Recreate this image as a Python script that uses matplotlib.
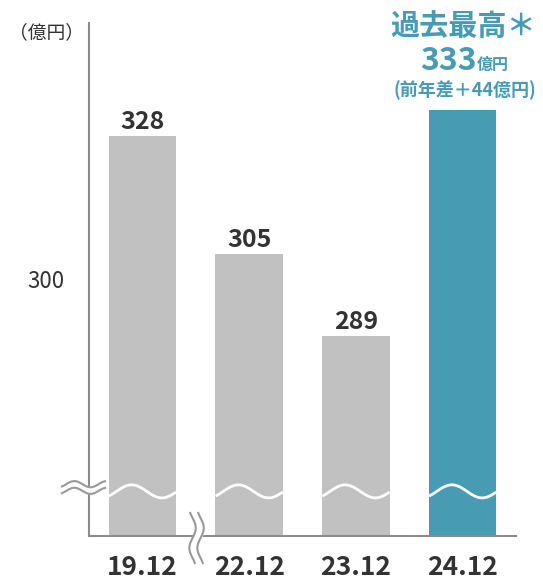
import numpy as np
import matplotlib.pyplot as plt

plt.rcParams['font.family'] = ['Noto Sans CJK JP', 'DejaVu Sans']

# data
periods = ['19.12', '22.12', '23.12', '24.12']
sales = [328, 305, 289, 333]
bar_colors = ['#c1c1c1', '#c1c1c1', '#c1c1c1', '#479bb3']
unit_label = '（億円）'
record_title = '過去最高＊'
record_value = '333'
record_unit = '億円'
record_diff = '(前年差＋44億円)'

dark = '#333333'
teal = '#479bb3'
axis_gray = '#8c8c8c'

fig = plt.figure(figsize=(5.43, 5.80), dpi=100)
ax = fig.add_axes([89 / 543, 44 / 580, 427 / 543, 513 / 580])

x = np.arange(len(periods))
bar_w = 0.63
ax.bar(x, sales, width=bar_w, bottom=0, color=bar_colors, zorder=2)
ax.set_xlim(-0.5, 3.5)
ax.set_ylim(250, 350)

for side in ['top', 'right']:
    ax.spines[side].set_visible(False)
for side in ['left', 'bottom']:
    ax.spines[side].set_color(axis_gray)
    ax.spines[side].set_linewidth(1.5)

ax.set_xticks([])
ax.set_yticks([300])
ax.set_yticklabels(['300'], fontsize=16, color=dark)
ax.tick_params(axis='y', length=0, pad=18)

# value labels over the grey bars
for xi, v in zip(x[:3], sales[:3]):
    ax.annotate(str(v), (xi, v), xytext=(0, 5), textcoords='offset points',
                ha='center', va='baseline', fontsize=18, fontweight='bold', color=dark)

# period labels under the axis
for xi, p in zip(x, periods):
    ax.text(xi, -0.076, p, transform=ax.get_xaxis_transform(), ha='center',
            va='baseline', fontsize=19, fontweight='bold', color=dark)

# unit label
fig.text(9 / 543, 1 - 38 / 580, unit_label, fontsize=13.5, color=dark, ha='left', va='baseline')

# record callout over the last bar
ax.text(3, 349.4, record_title, ha='center', va='center', fontsize=21,
        fontweight='bold', color=teal, clip_on=False)
ax.text(3.13, 340.8, record_value, ha='right', va='baseline', fontsize=23,
        fontweight='bold', color=teal, clip_on=False)
ax.text(3.13, 340.8, record_unit, ha='left', va='baseline', fontsize=11.5,
        fontweight='bold', color=teal, clip_on=False)
ax.text(3.02, 336.9, record_diff, ha='center', va='center', fontsize=13,
        fontweight='bold', color=teal, clip_on=False)

# wavy break line across every bar
t = np.linspace(0, 1, 100)
for xi in x:
    xs = xi - bar_w / 2 + t * bar_w
    ys = 258.7 + 1.27 * np.cos(2 * np.pi * (t - 0.34) / 0.9)
    ax.plot(xs, ys, color='white', lw=2, zorder=3, solid_capstyle='butt')

# break mark on the y axis
s = np.linspace(0, 1, 60)
bx = -0.5 + (-27 + s * 43) / 106.7
wave = 0.6 * np.sin(2 * np.pi * (s - 0.1) / 0.75)
top = 260.1 + wave
low = 258.8 + wave
ax.fill_between(bx, low, top, color='white', zorder=4, clip_on=False)
ax.plot(bx, top, color='#999999', lw=1.5, zorder=5, clip_on=False)
ax.plot(bx, low, color='#999999', lw=1.5, zorder=5, clip_on=False)

# break mark on the x axis
v = np.linspace(0, 1, 60)
by = 250 + (23 - v * 50) / 5.13
shift = 0.03 * np.sin(2 * np.pi * (v - 0.1) / 0.8)
left = 0.47 + shift
right = 0.545 + shift
ax.fill_betweenx(by, left, right, color='white', zorder=4, clip_on=False)
ax.plot(left, by, color='#999999', lw=1.5, zorder=5, clip_on=False)
ax.plot(right, by, color='#999999', lw=1.5, zorder=5, clip_on=False)

fig.savefig('out.png', dpi=100)
